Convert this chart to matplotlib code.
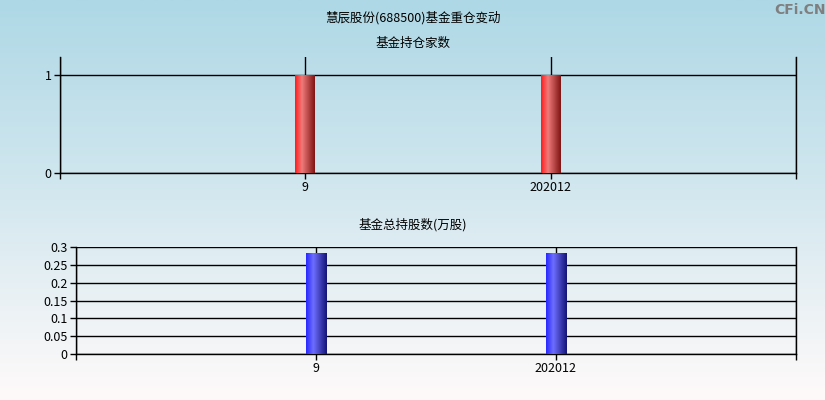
import numpy as np
import matplotlib.pyplot as plt
from matplotlib.colors import LinearSegmentedColormap

plt.rcParams['font.family'] = ['Liberation Sans Narrow', 'Noto Sans CJK SC', 'DejaVu Sans']

# data
categories = ['9', '202012']
fund_count = [1, 1]
fund_shares = [0.284, 0.284]
count_ticks = [0, 1]
share_ticks = [0, 0.05, 0.1, 0.15, 0.2, 0.25, 0.3]
share_labels = ['0', '0.05', '0.1', '0.15', '0.2', '0.25', '0.3']

title = '慧辰股份(688500)基金重仓变动'
title_top = '基金持仓家数'
title_bottom = '基金总持股数(万股)'

red_cmap = LinearSegmentedColormap.from_list(
    'redbar', [(0, '#ff1e1e'), (0.35, '#f07a7a'), (1, '#801414')])
blue_cmap = LinearSegmentedColormap.from_list(
    'bluebar', [(0, '#2828ff'), (0.35, '#6e6eff'), (1, '#141478')])

fig = plt.figure(figsize=(8.25, 4), dpi=100)

# background gradient
bg = fig.add_axes([0, 0, 1, 1], zorder=-10)
bg_cmap = LinearSegmentedColormap.from_list('bg', ['#aed8e6', '#d4e8ef', '#fffafa'])
bg.imshow(np.linspace(0, 1, 256).reshape(-1, 1), cmap=bg_cmap, aspect='auto',
          extent=[0, 1, 0, 1])
bg.axis('off')


def gradient_bars(ax, bars, cmap):
    grad = np.linspace(0, 1, 64).reshape(1, -1)
    for b in bars:
        x0, w, h = b.get_x(), b.get_width(), b.get_height()
        b.set_facecolor('none')
        im = ax.imshow(grad, cmap=cmap, aspect='auto', extent=[x0, x0 + w, 0, h],
                       zorder=3)
        im.set_clip_path(b)


def style_axes(ax):
    ax.set_facecolor('none')
    ax.spines['top'].set_visible(False)
    for s in ['left', 'right', 'bottom']:
        ax.spines[s].set_linewidth(1)
    ax.set_axisbelow(True)
    ax.grid(True, color='black', linewidth=1)
    ax.set_xlim(-1, 2)
    ax.set_xticks([-1, 0, 1, 2])
    ax.set_xticklabels([''] + categories + [''])
    ax.tick_params(axis='both', length=4, width=1, labelsize=9, pad=2)


x = np.arange(len(categories))

ax1 = fig.add_axes([0.0727, 0.5675, 0.892, 0.29])
style_axes(ax1)
bars1 = ax1.bar(x, fund_count, width=0.08, zorder=3)
gradient_bars(ax1, bars1, red_cmap)
ax1.set_ylim(0, 1.184)
ax1.set_yticks(count_ticks)
ax1.set_xlim(-1, 2)

ax2 = fig.add_axes([0.0921, 0.115, 0.8727, 0.2675])
style_axes(ax2)
bars2 = ax2.bar(x, fund_shares, width=0.085, zorder=3)
gradient_bars(ax2, bars2, blue_cmap)
ax2.set_ylim(0, 0.3)
ax2.set_yticks(share_ticks)
ax2.set_yticklabels(share_labels)
ax2.set_xlim(-1, 2)

fig.text(0.5, 1 - 18 / 400, title, ha='center', va='center', fontsize=9)
fig.text(0.5, 1 - 43 / 400, title_top, ha='center', va='center', fontsize=9)
fig.text(0.5, 1 - 225 / 400, title_bottom, ha='center', va='center', fontsize=9)
fig.text(0.97, 1 - 10 / 400, 'CFi.CN', ha='center', va='center', fontsize=10,
         color='#7f7f7f', fontweight='bold', family=['DejaVu Sans'])

fig.savefig('out.png', dpi=100)
